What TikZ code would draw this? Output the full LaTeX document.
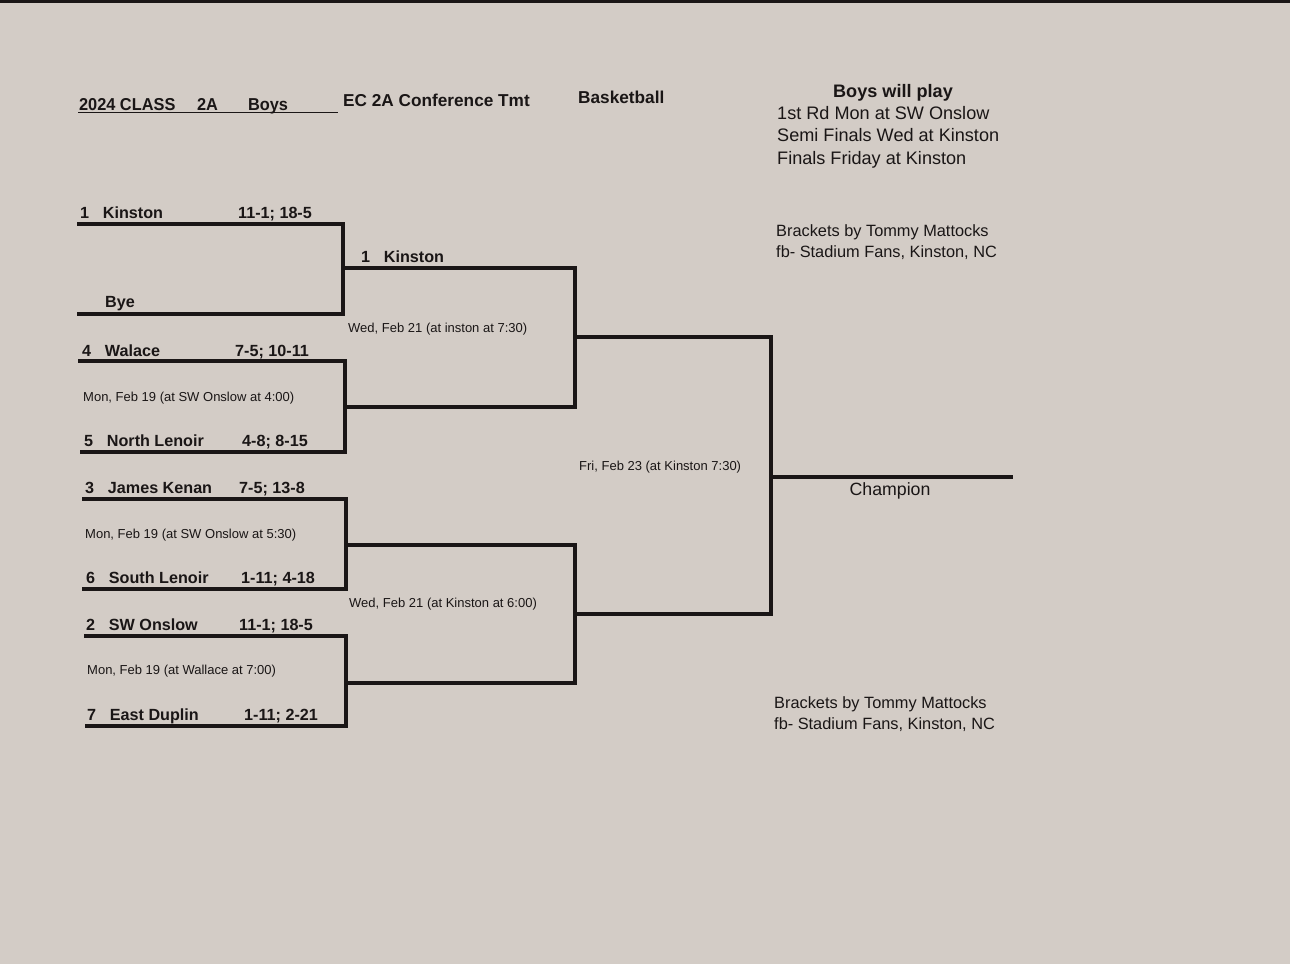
\documentclass[tikz,border=0pt]{standalone}
\usepackage{fontspec}
\setmainfont{Liberation Sans}
\usetikzlibrary{calc}
\usetikzlibrary{positioning}
\definecolor{paper}{RGB}{211,204,198}
\definecolor{ink}{RGB}{26,22,22}

\begin{document}
\begin{tikzpicture}[x=0.02cm, y=-0.02cm, line width=2.5pt, color=ink,
	      nodes={anchor=base west, inner sep=0pt},
	      team/.style={font=\bfseries\fontsize{9.2}{11}\selectfont},
	      head/.style={font=\bfseries\fontsize{9.8}{12}\selectfont},
	      game/.style={font=\fontsize{7.4}{9}\selectfont},
	      info/.style={font=\fontsize{10.3}{12}\selectfont},
	      credit/.style={font=\fontsize{9.3}{11}\selectfont},
	      bracket/.style={to path={-| (#1) |- (\tikztotarget)}}]
\useasboundingbox (0,0) rectangle (1290,964);
\fill[paper] (0,0) rectangle (1290,964);
\fill[ink] (0,0) rectangle (1290,3);
\newcommand\gap{\hspace{0.85em}}

% header
\node[head, xscale=0.95] (class) at (77,110) {2024 CLASS\hspace{13pt}2A\hspace{18pt}Boys};
\coordinate (underline start) at (78,112.5);
\coordinate (underline end) at (338,112.5);
\draw[line width=0.9pt] (underline start) -- (underline end);
\node[head] (conference) at (341,106) {EC 2A Conference Tmt};
\node[head] (sport) at (576,103) {Basketball};

\node[head, font=\bfseries\fontsize{10.3}{12}\selectfont, anchor=base] (plays) at (893,97) {Boys will play};
\node[info] (round one) at (775,119) {1st Rd Mon at SW Onslow};
\node[info] (semis) at (775,141) {Semi Finals Wed at Kinston};
\node[info] (finals) at (775,164) {Finals Friday at Kinston};
\node[credit] (by top) at (774,236) {Brackets by Tommy Mattocks};
\node[credit] (fb top) at (774,257) {fb- Stadium Fans, Kinston, NC};
\node[credit] (by bottom) at (772,708) {Brackets by Tommy Mattocks};
\node[credit] (fb bottom) at (772,729) {fb- Stadium Fans, Kinston, NC};

% first round
\coordinate (kinston line) at (77,224);
\coordinate (bye line) at (77,314);
\coordinate (walace line) at (78,361);
\coordinate (north lenoir line) at (80,452);
\coordinate (james kenan line) at (82,499);
\coordinate (south lenoir line) at (82,589);
\coordinate (sw onslow line) at (84,636);
\coordinate (east duplin line) at (85,726);

\node[team] (kinston) at (78,218) {1\gap Kinston};
\node[team] (kinston rec) at (236,218) {11-1; 18-5};
\node[team] (bye) at (103,307) {Bye};
\node[team] (walace) at (80,356) {4\gap Walace};
\node[team] (walace rec) at (233,356) {7-5; 10-11};
\node[team] (north lenoir) at (82,446) {5\gap North Lenoir};
\node[team] (north lenoir rec) at (240,446) {4-8; 8-15};
\node[team] (james kenan) at (83,493) {3\gap James Kenan};
\node[team] (james kenan rec) at (237,493) {7-5; 13-8};
\node[team] (south lenoir) at (84,583) {6\gap South Lenoir};
\node[team] (south lenoir rec) at (239,583) {1-11; 4-18};
\node[team] (sw onslow) at (84,630) {2\gap SW Onslow};
\node[team] (sw onslow rec) at (237,630) {11-1; 18-5};
\node[team] (east duplin) at (85,720) {7\gap East Duplin};
\node[team] (east duplin rec) at (242,720) {1-11; 2-21};

\node[game] (game walace) at (81,401) {Mon, Feb 19 (at SW Onslow at 4:00)};
\node[game] (game kenan) at (83,538) {Mon, Feb 19 (at SW Onslow at 5:30)};
\node[game] (game onslow) at (85,674) {Mon, Feb 19 (at Wallace at 7:00)};

% second round
\coordinate (mid kinston bye) at (343,268);
\coordinate (mid walace lenoir) at (345,407);
\coordinate (mid kenan lenoir) at (346,545);
\coordinate (mid onslow duplin) at (346,683);
\node[team] (kinston two) at (359,262) {1\gap Kinston};
\node[game] (semi top) at (346,332) {Wed, Feb 21 (at inston at 7:30)};
\node[game] (semi bottom) at (347,607) {Wed, Feb 21 (at Kinston at 6:00)};

% semis and final
\coordinate (mid top) at (575,337);
\coordinate (mid bottom) at (575,614);
\coordinate (mid final) at (771,477);
\coordinate (champion end) at (1013,477);
\node[game] (final game) at (577,470) {Fri, Feb 23 (at Kinston 7:30)};
\node[anchor=base, font=\fontsize{10.1}{12}\selectfont] (champion) at (890,495) {Champion};

\draw (kinston line) to[bracket=mid kinston bye] (bye line);
\draw (walace line) to[bracket=mid walace lenoir] (north lenoir line);
\draw (james kenan line) to[bracket=mid kenan lenoir] (south lenoir line);
\draw (sw onslow line) to[bracket=mid onslow duplin] (east duplin line);
\draw (mid kinston bye) to[bracket=mid top] (mid walace lenoir);
\draw (mid kenan lenoir) to[bracket=mid bottom] (mid onslow duplin);
\draw (mid top) to[bracket=mid final] (mid bottom);
\draw (mid final) -- (champion end);
\end{tikzpicture}
\end{document}
